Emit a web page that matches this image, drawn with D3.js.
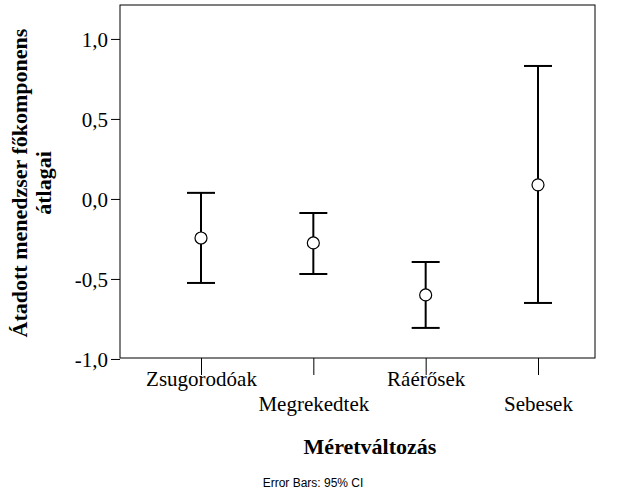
<!DOCTYPE html>
<html><head><meta charset="utf-8">
<script src="https://cdn.jsdelivr.net/npm/d3@7"></script>
<style>body{margin:0;background:#fff}</style>
</head><body>
<svg id="c" width="626" height="501"></svg>
<script>
const categories = ["Zsugorodóak","Megrekedtek","Ráérősek","Sebesek"];
const means = [-0.244,-0.275,-0.600,0.088];
const lower = [-0.525,-0.469,-0.806,-0.650];
const upper = [0.038,-0.088,-0.394,0.831];
const yTicks = [1.0,0.5,0.0,-0.5,-1.0];

const svg = d3.select("#c");
const L=120,R=595,T=5,B=358;
const y = d3.scaleLinear().domain([-0.994,1.212]).range([B,T]);
const x = d3.scalePoint().domain(categories).range([201,538]);
const serif = "'Liberation Serif', 'Times New Roman', serif";

svg.append("rect").attr("x",L).attr("y",T).attr("width",R-L).attr("height",B-T)
  .attr("fill","none").attr("stroke","#000").attr("stroke-width",1);

const fmt = d => d3.format(".1f")(d).replace(".",",").replace("−","-");
const ya = svg.append("g").attr("transform",`translate(${L},0)`)
  .call(d3.axisLeft(y).tickValues(yTicks).tickSize(9).tickFormat(fmt));
ya.attr("font-family",null).attr("font-size",null);
ya.select(".domain").remove();
ya.selectAll("text").style("font-family",serif).style("font-size","21px").attr("fill","#000").attr("dy","0.35em");
const xa = svg.append("g").attr("transform",`translate(0,${B})`)
  .call(d3.axisBottom(x).tickSize(17).tickFormat(d=>d));
xa.attr("font-family",null).attr("font-size",null);
xa.select(".domain").remove();
xa.selectAll("text").style("font-family",serif).style("font-size","21px").attr("fill","#000")
  .attr("y",(d,i)=> i%2===0 ? 21 : 46).attr("dy","0.35em");

const g = svg.append("g");
categories.forEach((c,i)=>{
  const cx = x(c);
  g.append("line").attr("x1",cx).attr("x2",cx).attr("y1",y(upper[i])).attr("y2",y(lower[i])).attr("stroke","#000").attr("stroke-width",2);
  [upper[i],lower[i]].forEach(v=>g.append("line").attr("x1",cx-14).attr("x2",cx+14).attr("y1",y(v)).attr("y2",y(v)).attr("stroke","#000").attr("stroke-width",2));
  g.append("circle").attr("cx",cx).attr("cy",y(means[i])).attr("r",6).attr("fill","#fff").attr("stroke","#000").attr("stroke-width",1.2);
});

function title(sel){return sel.style("font-family",serif).style("font-weight","bold").style("font-size","22px").attr("text-anchor","middle");}
title(svg.append("text").attr("transform","translate(27,183) rotate(-90)")).text("Átadott menedzser főkomponens");
title(svg.append("text").attr("transform","translate(51,183) rotate(-90)")).text("átlagai");
title(svg.append("text").attr("x",370).attr("y",454)).text("Méretváltozás");
svg.append("text").attr("x",313).attr("y",487).attr("text-anchor","middle")
  .style("font-family","'Liberation Sans', Arial, sans-serif").style("font-size","12px").text("Error Bars: 95% CI");
</script>
</body></html>
